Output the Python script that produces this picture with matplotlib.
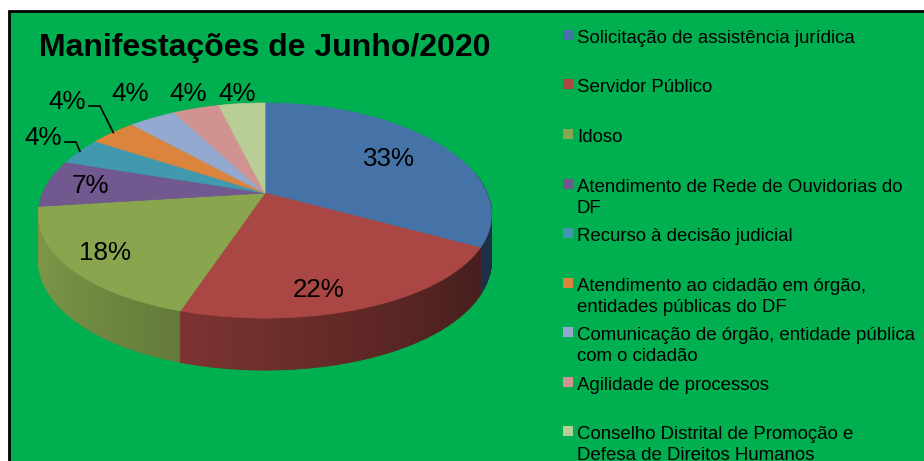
import numpy as np
import matplotlib
matplotlib.use('Agg')
import matplotlib.pyplot as plt
from matplotlib.patches import Polygon, Rectangle

plt.rcParams['font.family'] = ['Liberation Sans', 'DejaVu Sans']

title = "Manifestações de Junho/2020"
categories = [
    "Solicitação de assistência jurídica",
    "Servidor Público",
    "Idoso",
    "Atendimento de Rede de Ouvidorias do\nDF",
    "Recurso à decisão judicial",
    "Atendimento ao cidadão em órgão,\nentidades públicas do DF",
    "Comunicação de órgão, entidade pública\ncom o cidadão",
    "Agilidade de processos",
    "Conselho Distrital de Promoção e\nDefesa de Direitos Humanos",
]
values = [33, 22, 18, 7, 4, 4, 4, 4, 4]
colors = ['#4572A7', '#AA4643', '#89A54E', '#71588F', '#4198AF',
          '#DB843D', '#93A9CF', '#D19392', '#B9CD96']

# layout (pixels)
cx, cy = 265, 193
a, b = 222, 104.7
kx, ky = 0.2, 0.163
depth = 43.5
label_pos = [(389, 166), (319, 297), (105, 260), (90, 193), (43, 145),
             (67, 109), (130, 101), (188, 101), (237, 101)]
leader = [4, 5]


def proj(t, r=1.0, dz=0.0):
    s, c = np.sin(t), np.cos(t)
    x = cx + a * r * s / (1 + kx * r * c)
    wy = 1 + ky * r * c
    y = cy - b * r * c / wy + dz / wy
    return x, y


fig = plt.figure(figsize=(9.24, 4.61), dpi=100)
fig.patch.set_facecolor('white')
ax = fig.add_axes([0, 0, 1, 1])
ax.set_xlim(0, 924)
ax.set_ylim(461, 0)
ax.axis('off')

ax.add_patch(Rectangle((9, 11), 930, 460, fc='#00B050', ec='black', lw=2, zorder=0))

total = float(sum(values))
fracs = np.array(values) / total
bounds = np.concatenate([[0], np.cumsum(fracs)]) * 2 * np.pi

# side walls
quads = []
for i in range(len(values)):
    t0, t1 = bounds[i], bounds[i + 1]
    n = max(int(np.degrees(t1 - t0) / 0.5), 2)
    ts = np.linspace(t0, t1, n + 1)
    base = np.array(matplotlib.colors.to_rgb(colors[i]))
    for j in range(n):
        tm = 0.5 * (ts[j] + ts[j + 1])
        if np.cos(tm) > 0.2:
            continue
        p1 = proj(ts[j]); p2 = proj(ts[j + 1])
        p3 = proj(ts[j + 1], dz=depth); p4 = proj(ts[j], dz=depth)
        f = 0.66 - 0.26 * np.sin(tm)
        col = np.clip(base * f, 0, 1)
        quads.append((-np.cos(tm), [p1, p2, p3, p4], col))
quads.sort(key=lambda q: q[0])
for _, pts, col in quads:
    ax.add_patch(Polygon(pts, closed=True, fc=col, ec=col, lw=0.6, zorder=1))

# top face
for i in range(len(values)):
    ts = np.linspace(bounds[i], bounds[i + 1], 80)
    pts = [(cx, cy)] + [proj(t) for t in ts]
    ax.add_patch(Polygon(pts, closed=True, fc=colors[i], ec=colors[i], lw=0.5, zorder=2))

# data labels
for i, v in enumerate(values):
    pct = int(round(v / total * 100))
    lx, ly = label_pos[i]
    ax.text(lx, ly, f"{pct}%", ha='center', va='baseline', fontsize=18.7,
            color='black', zorder=5)
    if i in leader:
        tm = 0.5 * (bounds[i] + bounds[i + 1])
        ex, ey = proj(tm)
        sx = lx + 22
        sy = ly - 3
        ax.plot([sx, sx + 11, ex], [sy, sy, ey], color='black', lw=1.2, zorder=5)

# title
ax.text(265, 56, title, ha='center', va='baseline', fontsize=23,
        fontweight='bold', color='black', zorder=5)

# legend
for i, lab in enumerate(categories):
    y0 = 43 + 49.5 * i
    ax.add_patch(Rectangle((563, y0 - 13), 10, 10, fc=colors[i], ec='none', zorder=5))
    for j, line in enumerate(lab.split('\n')):
        ax.text(577, y0 + 21 * j, line, ha='left', va='baseline', fontsize=13.4,
                color='black', zorder=5)

fig.savefig('out.png', dpi=100, facecolor=fig.get_facecolor())
